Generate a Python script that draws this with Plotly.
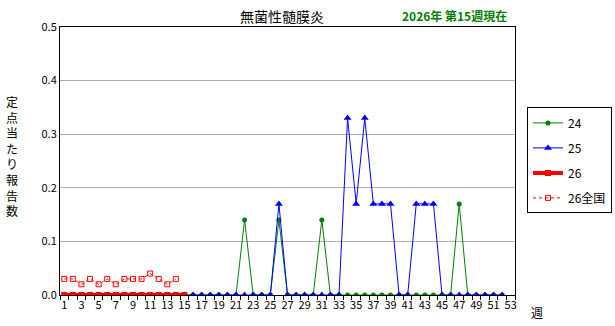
import plotly.graph_objects as go

weeks_all = list(range(1, 53))
weeks_26 = list(range(1, 16))
weeks_nat = list(range(1, 15))

s24 = [0]*52
for w, v in [(22, 0.14), (26, 0.14), (31, 0.14), (47, 0.17)]:
    s24[w-1] = v

s25 = [0]*52
for w, v in [(26, 0.17), (34, 0.33), (35, 0.17), (36, 0.33), (37, 0.17), (38, 0.17),
             (39, 0.17), (42, 0.17), (43, 0.17), (44, 0.17)]:
    s25[w-1] = v

s26 = [0]*15
s26_nat = [0.03, 0.03, 0.02, 0.03, 0.02, 0.03, 0.02, 0.03, 0.03, 0.03, 0.04, 0.03, 0.02, 0.03]

x_ticks = list(range(1, 54, 2))
y_ticks = [0.0, 0.1, 0.2, 0.3, 0.4, 0.5]

FONT = "Liberation Sans Narrow, Noto Sans CJK JP, sans-serif"

fig = go.Figure()
fig.add_trace(go.Scatter(x=weeks_all, y=s24, name="24", mode="lines+markers",
                         line=dict(color="#008000", width=1),
                         marker=dict(symbol="circle", size=5, color="#008000"),
                         legendgroup="a"))
fig.add_trace(go.Scatter(x=weeks_all, y=s25, name="25", mode="lines+markers",
                         line=dict(color="#0000FF", width=1),
                         marker=dict(symbol="triangle-up", size=7, color="#0000FF"),
                         legendgroup="b"))
fig.add_trace(go.Scatter(x=weeks_26, y=s26, name="26", mode="lines+markers",
                         line=dict(color="#FF0000", width=4),
                         marker=dict(symbol="square", size=6, color="#FF0000"),
                         legendgroup="c"))
fig.add_trace(go.Scatter(x=weeks_nat, y=s26_nat, name="26全国", mode="lines+markers",
                         line=dict(color="#FF0000", width=1, dash="dot"),
                         marker=dict(symbol="square-open", size=5, color="#FF0000",
                                     line=dict(width=1)),
                         legendgroup="d"))

fig.update_layout(
    width=615, height=326,
    margin=dict(l=60, r=100, t=27, b=31, autoexpand=False),
    paper_bgcolor="white", plot_bgcolor="white",
    font=dict(family=FONT, size=11, color="black"),
    showlegend=True,
    legend=dict(x=(527-60)/455, y=0.70, xanchor="left", yanchor="top",
                bordercolor="black", borderwidth=1,
                font=dict(size=12, family=FONT),
                tracegroupgap=6, itemwidth=30),
    xaxis=dict(range=[0.5, 53.5], tickvals=x_ticks, ticktext=[str(v) for v in x_ticks],
               showgrid=False, zeroline=False, showline=True, linecolor="black",
               linewidth=1, mirror=True, ticks="",
               minor=dict(ticks="outside", tick0=0.5, dtick=1, ticklen=4,
                          tickcolor="black", showgrid=False),
               tickfont=dict(size=11)),
    yaxis=dict(range=[0, 0.5], tickvals=y_ticks, tickformat=".1f",
               showgrid=True, gridcolor="#B0B0B0", gridwidth=1,
               zeroline=False, showline=True, linecolor="black", linewidth=1,
               mirror=True, ticks="", ticklen=0, tickfont=dict(size=11)),
)

ann = [
    dict(text="無菌性髄膜炎", x=(282-60)/455, y=(295-16)/268, xanchor="center", yanchor="middle",
         font=dict(size=14, family="Noto Sans CJK JP", color="black")),
    dict(text="<b>2026年 第15週現在</b>", x=(454-60)/455, y=(295-16)/268, xanchor="center", yanchor="middle",
         font=dict(size=12, family="Noto Sans CJK JP", color="#008000")),
    dict(text="<br>".join("定点当たり報告数"), x=(12-60)/455, y=(295-156)/268, xanchor="center", yanchor="middle",
         font=dict(size=12, family="Noto Sans CJK JP", color="black")),
    dict(text="週", x=(537-60)/455, y=(295-312)/268, xanchor="center", yanchor="middle",
         font=dict(size=12, family="Noto Sans CJK JP", color="black")),
]
for a in ann:
    fig.add_annotation(xref="paper", yref="paper", showarrow=False, **a)

fig.write_html("out.html")
